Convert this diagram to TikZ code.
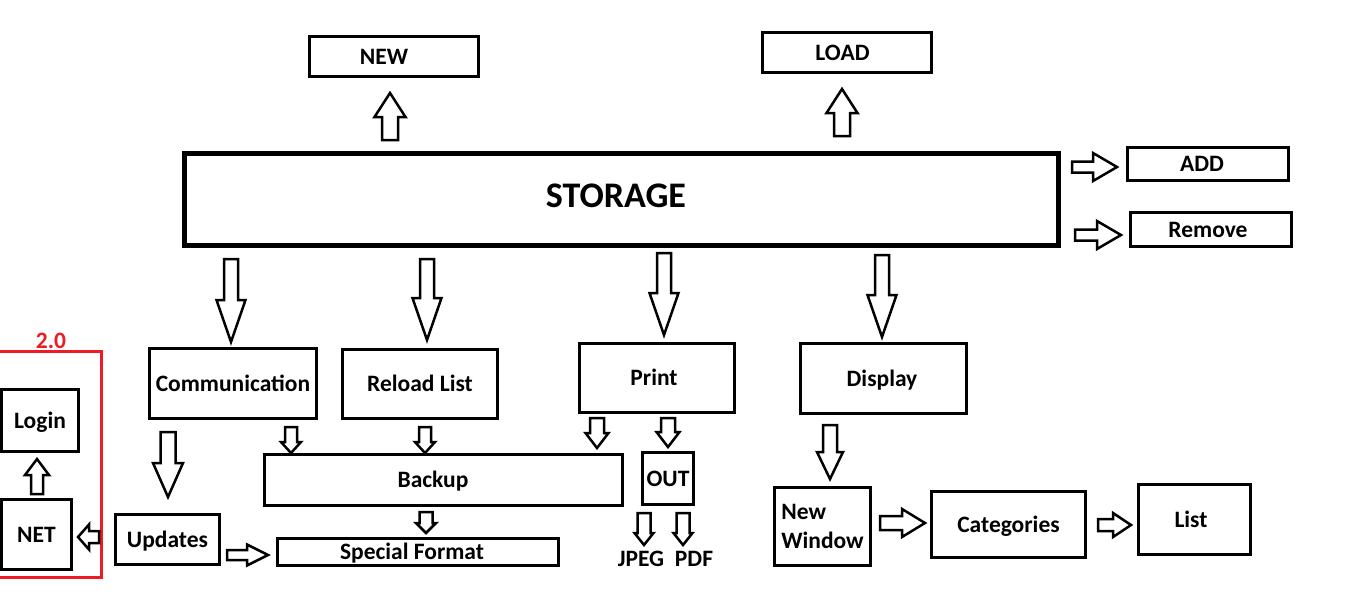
\documentclass[tikz,border=0pt]{standalone}
\usepackage{fontspec}
\setmainfont{Carlito}
\usetikzlibrary{calc}
\definecolor{pred}{RGB}{237,28,36}
\newcommand\txt{\bfseries\fontsize{23.5}{29}\selectfont}
\newcommand\bigtxt{\bfseries\fontsize{36}{40}\selectfont}
% block arrow: from, to, shaft half width, head half width, head length
\newcommand\barrow[5]{%
  \coordinate (hb) at ($(#2)!#5!(#1)$);
  \draw[blockarr] ($(#1)!#3!90:(#2)$) -- ($(hb)!#3!90:(#2)$) -- ($(hb)!#4!90:(#2)$) -- (#2)
    -- ($(hb)!#4!-90:(#2)$) -- ($(hb)!#3!-90:(#2)$) -- ($(#1)!#3!-90:(#2)$) -- cycle;}
\begin{document}
\begin{tikzpicture}[x=1pt,y=-1pt,
  box/.style={draw, line width=3pt, inner sep=0pt, font=\txt},
  one/.style={text height=15pt, text depth=0pt},
  blockarr/.style={draw, line width=2.5pt, fill=white, line join=miter},
  lbl/.style={inner sep=0pt, font=\txt, text height=15pt, text depth=0pt}]
\fill[white] (0,0) rectangle (1353,598);
\useasboundingbox (0,0) rectangle (1353,598);
\clip (0,0) rectangle (1353,598);

% boxes
\node[box, one, minimum width=169pt, minimum height=40pt] (new) at (394,56.5) {NEW\hspace*{20pt}};
\node[box, one, minimum width=169pt, minimum height=40pt] (load) at (847,52.5) {LOAD\hspace*{9pt}};
\node[box, line width=5pt, minimum width=874pt, minimum height=92pt, font=\bigtxt, text height=16pt, text depth=0pt] (storage) at (621.5,199.5) {STORAGE\hspace*{11pt}};
\node[box, one, minimum width=161pt, minimum height=33pt] (add) at (1208,164) {ADD\hspace*{12pt}};
\node[box, one, minimum width=161pt, minimum height=34pt] (remove) at (1211,229.5) {Remove\hspace*{6pt}};
\node[box, one, minimum width=167pt, minimum height=70pt] (comm) at (233,383.5) {Communication};
\node[box, one, minimum width=155pt, minimum height=69pt] (reload) at (420,384) {Reload List};
\node[box, one, minimum width=155pt, minimum height=69pt] (print) at (657,378) {Print\hspace*{6pt}};
\node[box, one, minimum width=166pt, minimum height=70pt] (display) at (883.5,378.5) {Display\hspace*{3pt}};
\node[box, one, minimum width=358pt, minimum height=51pt] (backup) at (443.5,480) {Backup\hspace*{21pt}};
\node[box, one, minimum width=51pt, minimum height=52pt] (out) at (668,478.5) {OUT};
\node[box, one, minimum width=281pt, minimum height=27pt] (special) at (418,552) {Special Format\hspace*{12pt}};
\node[box, one, minimum width=104pt, minimum height=50pt] (updates) at (167.5,539.5) {Updates};
\node[box, one, minimum width=77pt, minimum height=62pt] (login) at (40,420.5) {Login};
\node[box, one, minimum width=70pt, minimum height=70pt] (net) at (36.5,534.5) {NET};
\node[box, minimum width=96pt, minimum height=78pt, align=left] (newwin) at (822.5,526) {New\\Window};
\node[box, one, minimum width=154pt, minimum height=66pt] (cat) at (1008.5,524.5) {Categories};
\node[box, one, minimum width=112pt, minimum height=70pt] (list) at (1194.5,519.5) {List\hspace*{7pt}};
\node[lbl] (jpeg) at (641,559) {JPEG};
\node[lbl] (pdf) at (694,559) {PDF};

% version frame
\draw[pred, line width=3pt] (-5,351) rectangle (101,577);
\node[lbl, text=pred] (ver) at (51,341) {2.0};

% connector end points
\coordinate (s-new) at (390,140);  \coordinate (new-in) at (390,93);
\coordinate (s-load) at (842,136); \coordinate (load-in) at (842,89);
\coordinate (s-add) at (1072,167); \coordinate (add-in) at (1117,167);
\coordinate (s-rem) at (1075,235); \coordinate (rem-in) at (1121,235);
\coordinate (s-comm) at (231,259); \coordinate (comm-in) at (231,342);
\coordinate (s-rel) at (427,259);  \coordinate (rel-in) at (427,340);
\coordinate (s-prt) at (664,253);  \coordinate (prt-in) at (664,335);
\coordinate (s-dsp) at (882,255);  \coordinate (dsp-in) at (882,337);
\coordinate (comm-bk) at (291,427);  \coordinate (bk-in1) at (291,453);
\coordinate (rel-bk) at (425,427);   \coordinate (bk-in2) at (425,453);
\coordinate (prt-bk) at (597,418);   \coordinate (bk-in3) at (597,448);
\coordinate (prt-out) at (668,418);  \coordinate (out-in) at (668,447);
\coordinate (bk-sp) at (426,512);    \coordinate (sp-in) at (426,533);
\coordinate (out-j) at (644,513);    \coordinate (j-in) at (644,545);
\coordinate (out-p) at (683,513);    \coordinate (p-in) at (683,545);
\coordinate (comm-up) at (168,432);  \coordinate (up-in) at (168,497);
\coordinate (net-lg) at (37,494);    \coordinate (lg-in) at (37,459);
\coordinate (up-net) at (99,537);    \coordinate (net-in) at (78,537);
\coordinate (up-sp) at (227,555);    \coordinate (sp-in2) at (268,555);
\coordinate (dsp-nw) at (830,425);   \coordinate (nw-in) at (830,479);
\coordinate (nw-cat) at (880,523);   \coordinate (cat-in) at (925,523);
\coordinate (cat-ls) at (1098,525);  \coordinate (ls-in) at (1131,525);

% block arrows
\barrow{s-new}{new-in}{8pt}{15.5pt}{24pt}
\barrow{s-load}{load-in}{8pt}{15.5pt}{24pt}
\barrow{s-add}{add-in}{5.5pt}{14pt}{24pt}
\barrow{s-rem}{rem-in}{5.5pt}{14pt}{24pt}
\barrow{s-comm}{comm-in}{7pt}{14.5pt}{42pt}
\barrow{s-rel}{rel-in}{7pt}{14.5pt}{42pt}
\barrow{s-prt}{prt-in}{7pt}{14.5pt}{42pt}
\barrow{s-dsp}{dsp-in}{7pt}{14.5pt}{42pt}
\barrow{comm-bk}{bk-in1}{6pt}{10pt}{11pt}
\barrow{rel-bk}{bk-in2}{6pt}{10pt}{11pt}
\barrow{prt-bk}{bk-in3}{7pt}{11.5pt}{15pt}
\barrow{prt-out}{out-in}{7pt}{11.5pt}{15pt}
\barrow{bk-sp}{sp-in}{6.5pt}{10pt}{10pt}
\barrow{out-j}{j-in}{6.5pt}{9.5pt}{12pt}
\barrow{out-p}{p-in}{6.5pt}{9.5pt}{12pt}
\barrow{comm-up}{up-in}{7.5pt}{15pt}{34pt}
\barrow{net-lg}{lg-in}{6pt}{12pt}{16pt}
\barrow{up-net}{net-in}{6pt}{12.5pt}{11pt}
\barrow{up-sp}{sp-in2}{5pt}{10.5pt}{21pt}
\barrow{dsp-nw}{nw-in}{7pt}{13pt}{27pt}
\barrow{nw-cat}{cat-in}{7pt}{14pt}{23pt}
\barrow{cat-ls}{ls-in}{6pt}{12pt}{18pt}
\end{tikzpicture}
\end{document}
